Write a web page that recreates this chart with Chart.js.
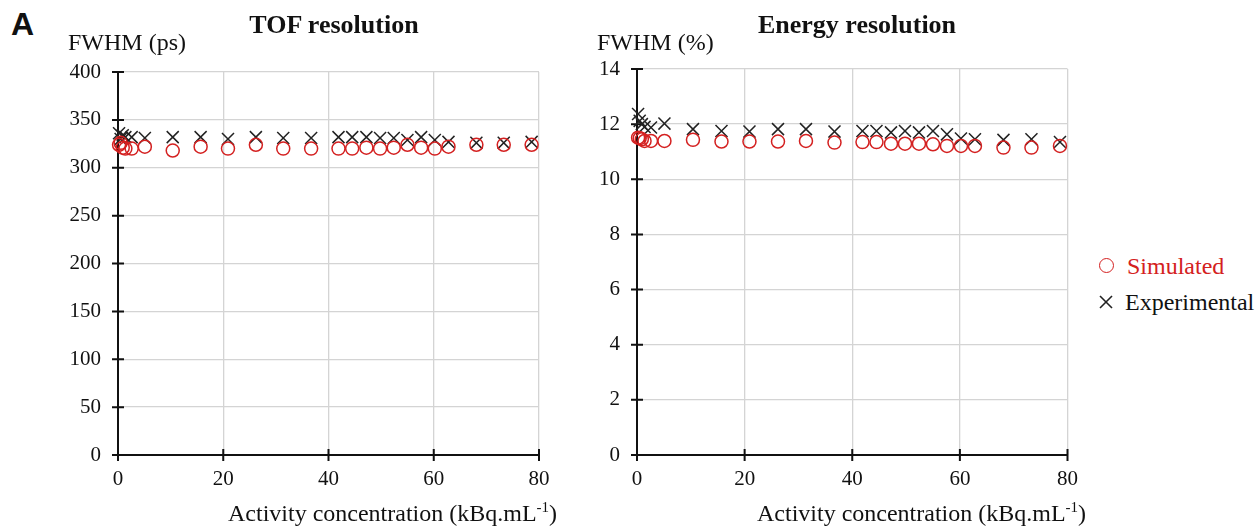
<!DOCTYPE html>
<html>
<head>
<meta charset="utf-8">
<script src="https://cdn.jsdelivr.net/npm/chart.js@4"></script>
<style>
  body { margin: 0; background: #fff; width: 1259px; height: 528px; overflow: hidden; position: relative; font-family: "Liberation Serif", serif; color: #111; }
  .box { position: absolute; top: 0; height: 528px; }
  .txt { position: absolute; white-space: nowrap; line-height: 1; }
  .ttl { font-weight: bold; font-size: 26px; transform: translateX(-50%); }
  .ax { font-size: 24px; }
  .lg { font-size: 24px; }
</style>
</head>
<body>
<div class="txt" style="left:11px;top:6px;font:bold 32px 'Liberation Sans',sans-serif;">A</div>

<div class="box" style="left:0;width:580px;"><canvas id="tofChart"></canvas></div>
<div class="box" style="left:580px;width:510px;"><canvas id="energyChart"></canvas></div>

<div class="txt ttl" style="left:334px;top:12px;">TOF resolution</div>
<div class="txt ttl" style="left:857px;top:12px;">Energy resolution</div>
<div class="txt ax" style="left:68px;top:30px;">FWHM (ps)</div>
<div class="txt ax" style="left:597px;top:30px;">FWHM (%)</div>
<div class="txt ax" style="left:228px;top:500px;">Activity concentration (kBq.mL<sup style="font-size:15px;">-1</sup>)</div>
<div class="txt ax" style="left:757px;top:500px;">Activity concentration (kBq.mL<sup style="font-size:15px;">-1</sup>)</div>

<!-- legend -->
<div style="position:absolute;left:1099px;top:258px;width:13px;height:13px;border:1.6px solid #d42020;border-radius:50%;"></div>
<div class="txt lg" style="left:1127px;top:254px;color:#d42020;">Simulated</div>
<svg style="position:absolute;left:1098px;top:294px;" width="16" height="16">
  <line x1="2" y1="2" x2="14" y2="14" stroke="#222" stroke-width="1.6"/>
  <line x1="14" y1="2" x2="2" y2="14" stroke="#222" stroke-width="1.6"/>
</svg>
<div class="txt lg" style="left:1125px;top:290px;">Experimental</div>

<script>
// activity concentration of each acquisition (kBq/mL)
const concentration = [0.2, 0.5, 0.9, 1.4, 2.6, 5.1, 10.4, 15.7, 20.9, 26.2, 31.4, 36.7,
  41.9, 44.5, 47.2, 49.8, 52.4, 55.0, 57.6, 60.2, 62.8, 68.1, 73.3, 78.6];

// TOF FWHM (ps)
const tofSimulated = [324, 326, 321, 320, 320, 322, 318, 322, 320, 324, 320, 320,
  320, 320, 321, 320, 321, 324, 321, 320, 322, 324, 324, 324];
const tofExperimental = [336, 330, 334, 332, 332, 331, 332, 332, 330, 332, 331, 331,
  332, 332, 332, 331, 331, 329, 332, 329, 327, 326, 326, 327];

// energy FWHM (%)
const energySimulated = [11.51, 11.49, 11.45, 11.39, 11.39, 11.39, 11.43, 11.37, 11.37, 11.37, 11.39, 11.33,
  11.35, 11.35, 11.29, 11.29, 11.29, 11.27, 11.21, 11.21, 11.21, 11.15, 11.15, 11.21];
const energyExperimental = [12.37, 12.12, 12.0, 11.9, 11.88, 12.02, 11.82, 11.75, 11.73, 11.82, 11.82, 11.73,
  11.75, 11.75, 11.70, 11.75, 11.70, 11.75, 11.63, 11.48, 11.45, 11.43, 11.45, 11.35];

const xTicks = { min: 0, max: 80, step: 20 };
const tofTicks = { min: 0, max: 400, step: 50 };
const energyTicks = { min: 0, max: 14, step: 2 };

const RED = "#d42020";
const BLACK = "#222";

function points(ys) {
  return ys.map((y, i) => ({ x: concentration[i], y }));
}

// black axis lines with Excel-style cross tick marks
const crossAxes = {
  id: "crossAxes",
  beforeDatasetsDraw(chart) {
    const { ctx, chartArea: a, scales } = chart;
    ctx.save();
    ctx.strokeStyle = "#111";
    ctx.lineWidth = 2;
    ctx.beginPath();
    ctx.moveTo(a.left, a.top);
    ctx.lineTo(a.left, a.bottom);
    ctx.lineTo(a.right, a.bottom);
    scales.y.ticks.forEach((t) => {
      const y = scales.y.getPixelForValue(t.value);
      ctx.moveTo(a.left - 6, y);
      ctx.lineTo(a.left + 6, y);
    });
    scales.x.ticks.forEach((t) => {
      const x = scales.x.getPixelForValue(t.value);
      ctx.moveTo(x, a.bottom - 6);
      ctx.lineTo(x, a.bottom + 6);
    });
    ctx.stroke();
    ctx.restore();
  },
};

function makeChart(id, sim, exp, yt, top, right, yWidth) {
  const tickFont = { family: "Liberation Serif", size: 21 };
  return new Chart(document.getElementById(id), {
    type: "scatter",
    data: {
      datasets: [
        {
          label: "Simulated",
          data: points(sim),
          pointStyle: "circle",
          pointRadius: 6.5,
          borderColor: RED,
          backgroundColor: "rgba(0,0,0,0)",
          borderWidth: 1.5,
          clip: false,
        },
        {
          label: "Experimental",
          data: points(exp),
          pointStyle: "crossRot",
          pointRadius: 8.5,
          borderColor: BLACK,
          borderWidth: 1.5,
          clip: false,
        },
      ],
    },
    options: {
      responsive: true,
      maintainAspectRatio: false,
      animation: false,
      layout: { padding: { top, right, left: 0, bottom: 0 } },
      plugins: { legend: { display: false }, tooltip: { enabled: false } },
      scales: {
        x: {
          type: "linear",
          min: xTicks.min,
          max: xTicks.max,
          ticks: { stepSize: xTicks.step, color: "#111", font: tickFont, padding: 12, maxRotation: 0 },
          grid: { color: "#d4d4d4", lineWidth: 1.3, drawTicks: false },
          border: { display: false },
          afterFit: (s) => { s.height = 73; },
        },
        y: {
          min: yt.min,
          max: yt.max,
          ticks: { stepSize: yt.step, color: "#111", font: tickFont, padding: 17 },
          grid: { color: "#d4d4d4", lineWidth: 1.3, drawTicks: false },
          border: { display: false },
          afterFit: (s) => { s.width = yWidth; },
        },
      },
    },
    plugins: [crossAxes],
  });
}

makeChart("tofChart", tofSimulated, tofExperimental, tofTicks, 72, 41, 118);
makeChart("energyChart", energySimulated, energyExperimental, energyTicks, 69, 21, 57);
</script>
</body>
</html>
